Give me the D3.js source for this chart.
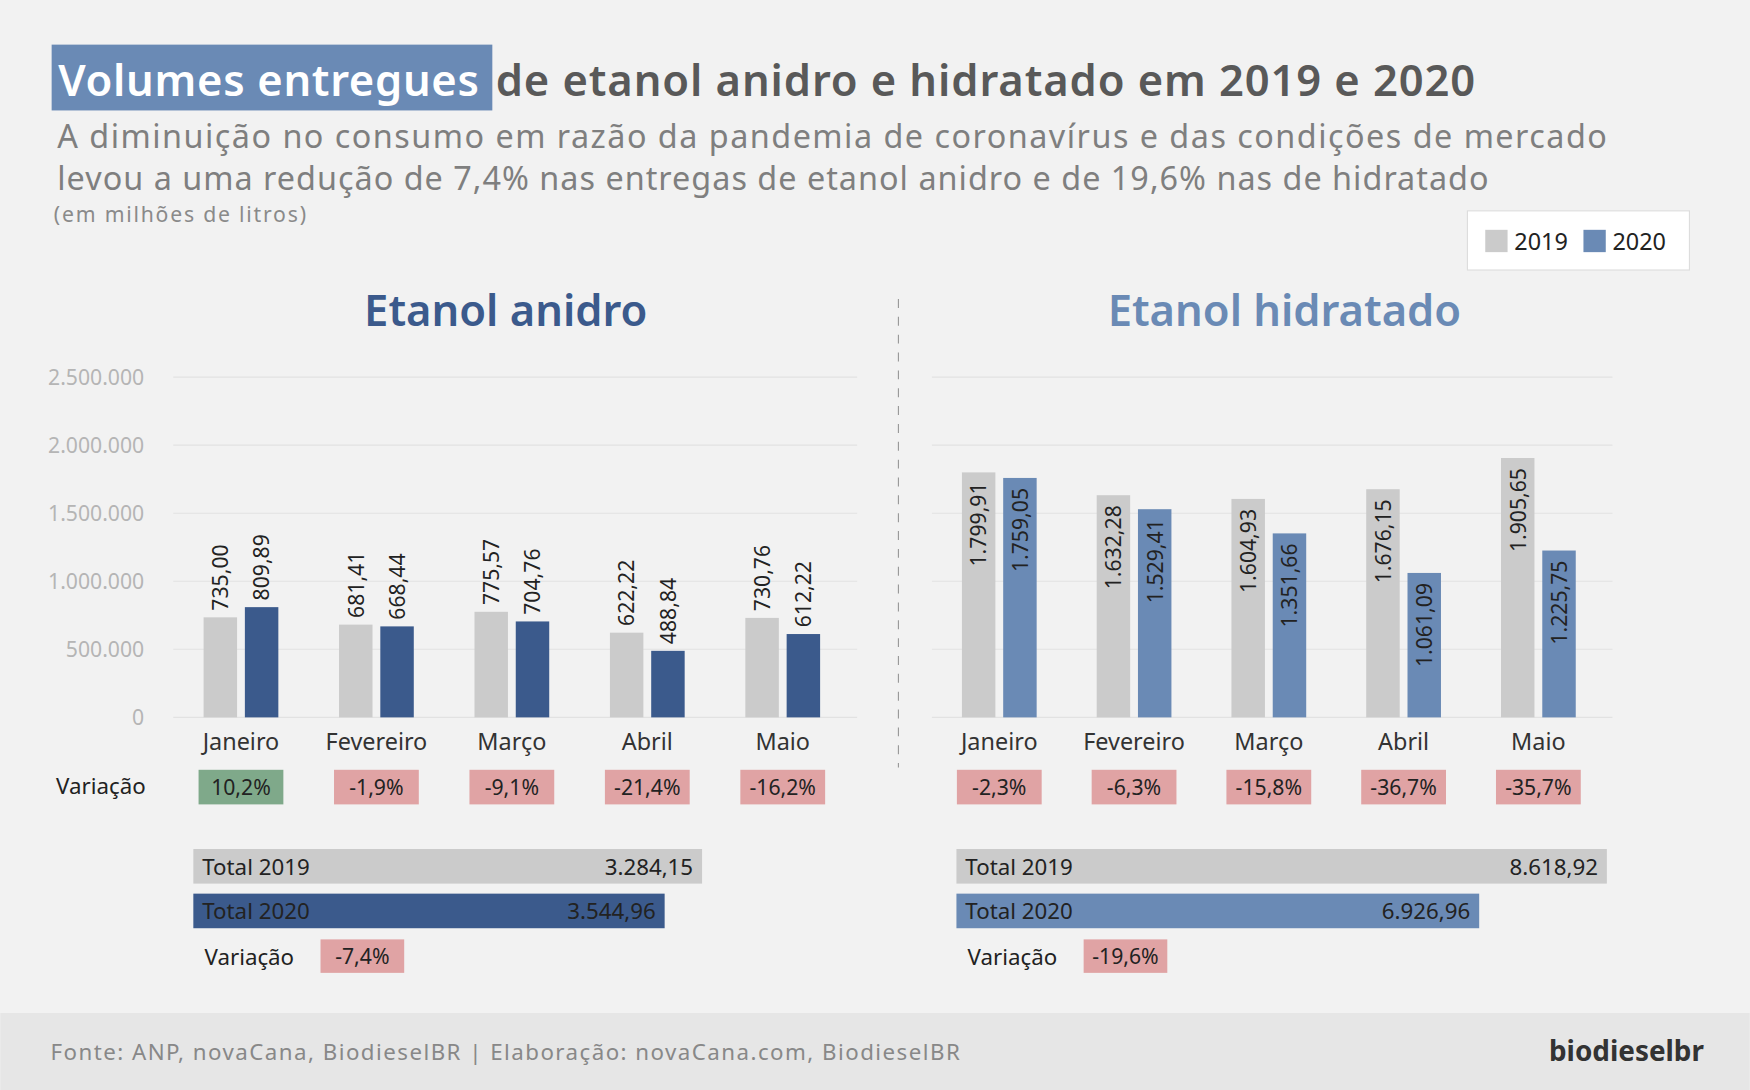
<!DOCTYPE html>
<html><head><meta charset="utf-8">
<script src="https://cdn.jsdelivr.net/npm/d3@7"></script>
<style>body{margin:0;background:#f2f2f2}text{font-family:"Noto Sans",sans-serif}</style>
</head><body><div id="vis"></div>
<script>
var months = ["Janeiro", "Fevereiro", "Março", "Abril", "Maio"];
var anidro2019 = [735.00, 681.41, 775.57, 622.22, 730.76];
var anidro2020 = [809.89, 668.44, 704.76, 488.84, 612.22];
var hidratado2019 = [1799.91, 1632.28, 1604.93, 1676.15, 1905.65];
var hidratado2020 = [1759.05, 1529.41, 1351.66, 1061.09, 1225.75];
var anidroVar = ["10,2%", "-1,9%", "-9,1%", "-21,4%", "-16,2%"];
var hidratadoVar = ["-2,3%", "-6,3%", "-15,8%", "-36,7%", "-35,7%"];
var anidroTotals = ["3.284,15", "3.544,96"];
var hidratadoTotals = ["8.618,92", "6.926,96"];
var totalVar = ["-7,4%", "-19,6%"];
var yTicks = [0, 500, 1000, 1500, 2000, 2500];

var c19 = "#cbcbcb", dark = "#3b5a8c", light = "#6a8ab5", pink = "#e0a3a4", green = "#7fa98a";
var fmt = d3.formatLocale({decimal: ",", thousands: ".", grouping: [3], currency: ["", ""]});
var fmtVal = fmt.format(",.2f"), fmtTick = fmt.format(",");

var svg = d3.select("#vis").append("svg")
  .attr("width", 1750).attr("height", 1090).attr("viewBox", "0 0 1568 977");
svg.append("rect").attr("width", 1568).attr("height", 977).attr("fill", "#f2f2f2");
svg.append("rect").attr("y", 908).attr("width", 1568).attr("height", 69).attr("fill", "#e6e6e6");

// title
svg.append("rect").attr("x", 46).attr("y", 40).attr("width", 395).attr("height", 59).attr("fill", light);
svg.append("text").attr("x", 52).attr("y", 86).attr("font-size", 39).attr("font-weight", 600)
  .attr("fill", "#fff").attr("textLength", 377).text("Volumes entregues");
svg.append("text").attr("x", 444).attr("y", 86).attr("font-size", 39).attr("font-weight", 600)
  .attr("fill", "#595959").attr("textLength", 878).text("de etanol anidro e hidratado em 2019 e 2020");
svg.append("text").attr("x", 51).attr("y", 133).attr("font-size", 29).attr("fill", "#7f7f7f")
  .attr("textLength", 1389).text("A diminuição no consumo em razão da pandemia de coronavírus e das condições de mercado");
svg.append("text").attr("x", 51).attr("y", 170).attr("font-size", 29).attr("fill", "#7f7f7f")
  .attr("textLength", 1283).text("levou a uma redução de 7,4% nas entregas de etanol anidro e de 19,6% nas de hidratado");
svg.append("text").attr("x", 48).attr("y", 199).attr("font-size", 19).attr("fill", "#8a8a8a")
  .attr("textLength", 226).text("(em milhões de litros)");

// legend
svg.append("rect").attr("x", 1315).attr("y", 189).attr("width", 199).attr("height", 53)
  .attr("fill", "#fff").attr("stroke", "#ddd");
[["2019", c19, 1331], ["2020", light, 1419]].forEach(function(l) {
  svg.append("rect").attr("x", l[2]).attr("y", 206).attr("width", 20).attr("height", 20).attr("fill", l[1]);
  svg.append("text").attr("x", l[2] + 26).attr("y", 224).attr("font-size", 21).attr("fill", "#222").text(l[0]);
});

// divider
svg.append("line").attr("x1", 805).attr("x2", 805).attr("y1", 268).attr("y2", 688)
  .attr("stroke", "#999").attr("stroke-dasharray", "8,8");

var y = d3.scaleLinear().domain([0, 2500]).range([643, 338]);

function panel(opt) {
  var g = svg.append("g");
  g.append("text").attr("x", opt.titleX).attr("y", 292).attr("text-anchor", "middle")
    .attr("font-size", 39).attr("font-weight", 600).attr("fill", opt.color).text(opt.title);
  g.selectAll(".grid").data(yTicks).enter().append("line")
    .attr("x1", opt.x0).attr("x2", opt.x1).attr("y1", y).attr("y2", y)
    .attr("stroke", "#e2e2e2");
  if (opt.axis) {
    g.selectAll(".tick").data(yTicks).enter().append("text")
      .attr("x", 129).attr("y", function(d) { return y(d) + 7; }).attr("text-anchor", "end")
      .attr("font-size", 19).attr("fill", "#b5b5b5")
      .text(function(d) { return fmtTick(d * 1000); });
  }
  var x = d3.scaleBand().domain(months).range([opt.x0, opt.x1 - 6]).paddingInner(0);
  var bw = 30, gap = 7;
  var series = [[opt.s19, c19, -bw - gap / 2], [opt.s20, opt.color, gap / 2]];
  series.forEach(function(s) {
    g.selectAll(null).data(s[0]).enter().append("rect")
      .attr("x", function(d, i) { return x(months[i]) + x.bandwidth() / 2 + s[2]; })
      .attr("y", y).attr("width", bw).attr("height", function(d) { return 643 - y(d); })
      .attr("fill", s[1]);
    g.selectAll(null).data(s[0]).enter().append("text")
      .attr("transform", function(d, i) {
        var cx = x(months[i]) + x.bandwidth() / 2 + s[2] + bw / 2 + 7;
        var ty = opt.inside ? y(d) + 9 : y(d) - 6;
        return "translate(" + cx + "," + ty + ") rotate(-90)";
      })
      .attr("text-anchor", opt.inside ? "end" : "start")
      .attr("font-size", 19).attr("fill", "#222").text(fmtVal);
  });
  g.selectAll(null).data(months).enter().append("text")
    .attr("x", function(d) { return x(d) + x.bandwidth() / 2; }).attr("y", 672)
    .attr("text-anchor", "middle").attr("font-size", 21).attr("fill", "#333").text(function(d) { return d; });
  g.selectAll(null).data(opt.vars).enter().append("rect")
    .attr("x", function(d, i) { return x(months[i]) + x.bandwidth() / 2 - 38; })
    .attr("y", 690).attr("width", 76).attr("height", 31)
    .attr("fill", function(d) { return d[0] === "-" ? pink : green; });
  g.selectAll(null).data(opt.vars).enter().append("text")
    .attr("x", function(d, i) { return x(months[i]) + x.bandwidth() / 2; }).attr("y", 713)
    .attr("text-anchor", "middle").attr("font-size", 19).attr("fill", "#222").text(function(d) { return d; });

  // totals (bar length from the monthly sums)
  var sums = [d3.sum(opt.s19), d3.sum(opt.s20)];
  var tx = d3.scaleLinear().domain([0, d3.max(sums)]).range([0, opt.totalW]);
  var rows = [["Total 2019", c19, 761], ["Total 2020", opt.color, 801]];
  rows.forEach(function(r, i) {
    var w = tx(sums[i]);
    g.append("rect").attr("x", opt.tx0).attr("y", r[2]).attr("width", w).attr("height", 31).attr("fill", r[1]);
    g.append("text").attr("x", opt.tx0 + 8).attr("y", r[2] + 23).attr("font-size", 20).attr("fill", "#222").text(r[0]);
    g.append("text").attr("x", opt.tx0 + w - 8).attr("y", r[2] + 23).attr("text-anchor", "end")
      .attr("font-size", 20).attr("fill", "#222").text(opt.totals[i]);
  });
  g.append("text").attr("x", opt.tx0 + 10).attr("y", 865).attr("font-size", 20).attr("fill", "#222").text("Variação");
  g.append("rect").attr("x", opt.tx0 + 114).attr("y", 842).attr("width", 75).attr("height", 30).attr("fill", pink);
  g.append("text").attr("x", opt.tx0 + 151.5).attr("y", 864).attr("text-anchor", "middle")
    .attr("font-size", 19).attr("fill", "#222").text(opt.totalVar);
}

panel({title: "Etanol anidro", titleX: 453, color: dark, x0: 155, x1: 768, axis: true, inside: false,
  s19: anidro2019, s20: anidro2020, vars: anidroVar, totals: anidroTotals, totalVar: totalVar[0], tx0: 173, totalW: 456});
panel({title: "Etanol hidratado", titleX: 1151, color: light, x0: 835, x1: 1445, axis: false, inside: true,
  s19: hidratado2019, s20: hidratado2020, vars: hidratadoVar, totals: hidratadoTotals, totalVar: totalVar[1], tx0: 857, totalW: 583});

svg.append("text").attr("x", 50).attr("y", 712).attr("font-size", 20).attr("fill", "#222").text("Variação");

svg.append("text").attr("x", 45).attr("y", 950).attr("font-size", 20).attr("fill", "#888")
  .attr("textLength", 815).text("Fonte: ANP, novaCana, BiodieselBR | Elaboração: novaCana.com, BiodieselBR");
svg.append("text").attr("x", 1527).attr("y", 951).attr("text-anchor", "end").attr("font-size", 25)
  .attr("font-weight", 700).attr("fill", "#333").text("biodieselbr");
</script></body></html>
